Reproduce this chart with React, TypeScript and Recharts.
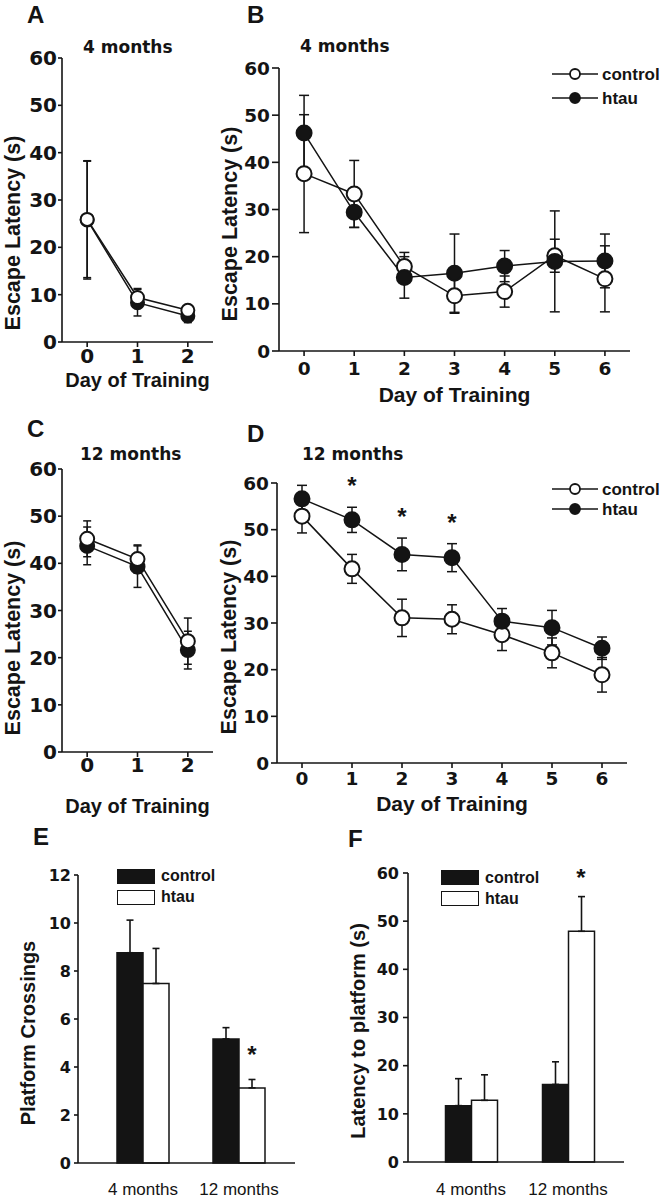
import React from "react";
import {
  Bar,
  BarChart,
  ErrorBar,
  Legend,
  Line,
  LineChart,
  ReferenceDot,
  XAxis,
  YAxis,
} from "recharts";

const SANS = '"Liberation Sans", Arial, Helvetica, sans-serif';
const WIDE = '"DejaVu Sans", Verdana, sans-serif';
const INK = "#141414";

const days3 = [0, 1, 2];
const days7 = [0, 1, 2, 3, 4, 5, 6];
const latencyTicks = [0, 10, 20, 30, 40, 50, 60];
const crossingTicks = [0, 2, 4, 6, 8, 10, 12];

// A - 4 months, 3 training days
const a4Control = [25.9, 9.4, 6.7];
const a4ControlSem = [12.3, 1.9, 0.6];
const a4Htau = [25.8, 8.3, 5.5];
const a4HtauSem = [12.5, 2.8, 1.4];

// B - 4 months, 7 training days
const b4Control = [37.6, 33.3, 17.9, 11.7, 12.6, 20.2, 15.3];
const b4ControlSem = [12.5, 7.1, 3.0, 3.7, 3.3, 3.5, 7.0];
const b4Htau = [46.2, 29.4, 15.6, 16.5, 18.0, 19.0, 19.1];
const b4HtauSem = [8.0, 3.2, 4.4, 8.3, 3.3, 10.7, 5.7];

// C - 12 months, 3 training days
const c12Control = [45.2, 40.9, 23.5];
const c12ControlSem = [3.8, 3.0, 4.9];
const c12Htau = [43.7, 39.3, 21.6];
const c12HtauSem = [4.0, 4.4, 4.0];

// D - 12 months, 7 training days
const d12Control = [52.9, 41.6, 31.1, 30.8, 27.5, 23.6, 18.9];
const d12ControlSem = [3.6, 3.1, 4.0, 3.1, 3.4, 3.2, 3.7];
const d12Htau = [56.6, 52.1, 44.7, 44.0, 30.4, 29.0, 24.6];
const d12HtauSem = [2.9, 2.7, 3.5, 3.0, 2.7, 3.7, 2.4];
const d12Significant = [false, true, true, true, false, false, false];

// E, F - probe trial
const ages = ["4 months", "12 months"];
const crossControl = [8.76, 5.17];
const crossControlSem = [1.36, 0.47];
const crossHtau = [7.48, 3.13];
const crossHtauSem = [1.46, 0.35];
const crossSignificant = [false, true];
const probeControl = [11.7, 16.1];
const probeControlSem = [5.6, 4.7];
const probeHtau = [12.8, 47.9];
const probeHtauSem = [5.3, 7.2];
const probeSignificant = [false, true];

type Key = "control" | "htau";
type Box = { x: number; y: number; w: number; h: number };
type Plot = { l: number; t: number; r: number; b: number };

const lineFill: Record<string, string> = { control: "#fff", htau: INK };
const barFill: Record<string, string> = { control: INK, htau: "#fff" };
const axisPen = { stroke: INK, strokeWidth: 1.6 };

function dayRows(days: number[], control: number[], controlSem: number[], htau: number[], htauSem: number[]) {
  return days.map((day, i) => ({
    day,
    control: control[i],
    controlSem: controlSem[i],
    htau: htau[i],
    htauSem: htauSem[i],
  }));
}

function ageRows(control: number[], controlSem: number[], htau: number[], htauSem: number[]) {
  return ages.map((age, i) => ({
    age,
    control: control[i],
    controlErr: [0, controlSem[i]],
    htau: htau[i],
    htauErr: [0, htauSem[i]],
  }));
}

type TitleSpec = { x: number; y: number; size: number };

function xTitleContent(text: string, box: Box, t: TitleSpec) {
  return () => (
    <text x={t.x - box.x} y={t.y - box.y} textAnchor="middle" fontFamily={SANS} fontWeight={700} fontSize={t.size} fill={INK}>
      {text}
    </text>
  );
}

function yTitleContent(text: string, box: Box, t: TitleSpec) {
  const x = t.x - box.x;
  const y = t.y - box.y;
  return () => (
    <text x={x} y={y} transform={`rotate(-90 ${x} ${y})`} textAnchor="middle" fontFamily={SANS} fontWeight={700} fontSize={t.size} fill={INK}>
      {text}
    </text>
  );
}

function lineKey(rowH: number, size: number) {
  return (props: any) => (
    <div>
      {(props.payload ?? []).map((entry: any) => (
        <div key={entry.value} style={{ display: "flex", alignItems: "center", height: rowH }}>
          <svg width={46} height={rowH} style={{ display: "block" }}>
            <line x1={0} x2={46} y1={rowH / 2} y2={rowH / 2} stroke={INK} strokeWidth={1.5} />
            <circle cx={23} cy={rowH / 2} r={5} fill={lineFill[entry.value]} stroke={INK} strokeWidth={1.8} />
          </svg>
          <span style={{ marginLeft: 4, fontFamily: SANS, fontWeight: 700, fontSize: size, color: INK, lineHeight: 1, whiteSpace: "nowrap" }}>
            {entry.value}
          </span>
        </div>
      ))}
    </div>
  );
}

function barKey(rowH: number, size: number) {
  return (props: any) => (
    <div>
      {(props.payload ?? []).map((entry: any) => (
        <div key={entry.value} style={{ display: "flex", alignItems: "center", height: rowH }}>
          <span
            style={{
              display: "block",
              width: 38,
              height: 15,
              boxSizing: "border-box",
              background: barFill[entry.value],
              border: `1.5px solid ${INK}`,
            }}
          />
          <span style={{ marginLeft: 6, fontFamily: SANS, fontWeight: 700, fontSize: size, color: INK, lineHeight: 1 }}>
            {entry.value}
          </span>
        </div>
      ))}
    </div>
  );
}

function star(dx: number, lift: number) {
  return (p: any) => (
    <text x={p.cx + dx} y={p.cy - lift} textAnchor="middle" fontFamily={SANS} fontWeight={700} fontSize={24} fill={INK}>
      *
    </text>
  );
}

interface LinePanelProps {
  box: Box;
  plot: Plot;
  data: ReturnType<typeof dayRows>;
  days: number[];
  order: Key[];
  dotR: number;
  cap: number;
  tickFont: number;
  xTick: [number, number];
  yTick: [number, number];
  xTitle: TitleSpec;
  yTitle: TitleSpec;
  legend?: { left: number; top: number; rowH: number };
  significant?: boolean[];
}

function LinePanel(p: LinePanelProps) {
  const { box, plot } = p;
  const maxDay = p.days[p.days.length - 1];
  const tickStyle = { fontSize: p.tickFont, fontWeight: 700, fontFamily: WIDE, fill: INK };
  return (
    <div style={{ position: "absolute", left: box.x, top: box.y }}>
      <LineChart
        width={box.w}
        height={box.h}
        data={p.data}
        margin={{ top: plot.t - box.y, right: box.x + box.w - plot.r, bottom: 0, left: 0 }}
      >
        <XAxis
          dataKey="day"
          type="number"
          domain={[-0.5, maxDay + 0.5]}
          ticks={p.days}
          interval={0}
          height={box.y + box.h - plot.b}
          tickSize={p.xTick[0]}
          tickMargin={p.xTick[1]}
          axisLine={axisPen}
          tickLine={axisPen}
          tick={tickStyle}
          label={{ content: xTitleContent("Day of Training", box, p.xTitle) }}
        />
        <YAxis
          type="number"
          domain={[0, 60]}
          ticks={latencyTicks}
          interval={0}
          width={plot.l - box.x}
          tickSize={p.yTick[0]}
          tickMargin={p.yTick[1]}
          axisLine={axisPen}
          tickLine={axisPen}
          tick={tickStyle}
          label={{ content: yTitleContent("Escape Latency (s)", box, p.yTitle) }}
        />
        {p.order.map((key) => (
          <Line
            key={key}
            dataKey={key}
            name={key}
            type="linear"
            stroke={INK}
            strokeWidth={1.5}
            isAnimationActive={false}
            activeDot={false}
            dot={{ r: p.dotR, fill: lineFill[key], stroke: INK, strokeWidth: 2 }}
          >
            <ErrorBar
              dataKey={`${key}Sem`}
              width={p.cap}
              stroke={INK}
              strokeWidth={1.5}
              direction="y"
              isAnimationActive={false}
            />
          </Line>
        ))}
        {(p.significant ?? []).map((sig, i) =>
          sig ? (
            <ReferenceDot
              key={`sig-${i}`}
              x={p.data[i].day}
              y={p.data[i].htau + p.data[i].htauSem}
              r={0}
              shape={star(0, 13)}
            />
          ) : null
        )}
        {p.legend && (
          <Legend
            layout="vertical"
            align="center"
            verticalAlign="middle"
            content={lineKey(p.legend.rowH, 17)}
            wrapperStyle={{ left: p.legend.left, top: p.legend.top, width: 112, margin: 0, padding: 0 }}
          />
        )}
      </LineChart>
    </div>
  );
}

interface BarPanelProps {
  box: Box;
  plot: Plot;
  data: ReturnType<typeof ageRows>;
  domainMax: number;
  ticks: number[];
  pad: [number, number];
  yTick: [number, number];
  yTitle: TitleSpec;
  yLabel: string;
  legend: { left: number; top: number; rowH: number };
  significant: boolean[];
  starLift: number;
  groupGap: number;
}

const BAR = 26;

function BarPanel(p: BarPanelProps) {
  const { box, plot } = p;
  return (
    <div style={{ position: "absolute", left: box.x, top: box.y }}>
      <BarChart
        width={box.w}
        height={box.h}
        data={p.data}
        barGap={0}
        barSize={BAR}
        margin={{ top: plot.t - box.y, right: box.x + box.w - plot.r, bottom: 0, left: 0 }}
      >
        <XAxis
          dataKey="age"
          type="category"
          padding={{ left: p.pad[0], right: p.pad[1] }}
          height={box.y + box.h - plot.b}
          tickSize={0}
          tickMargin={p.groupGap}
          interval={0}
          axisLine={axisPen}
          tickLine={false}
          tick={{ fontSize: 17, fontWeight: 400, fontFamily: SANS, fill: INK }}
        />
        <YAxis
          type="number"
          domain={[0, p.domainMax]}
          ticks={p.ticks}
          interval={0}
          width={plot.l - box.x}
          tickSize={p.yTick[0]}
          tickMargin={p.yTick[1]}
          axisLine={axisPen}
          tickLine={axisPen}
          tick={{ fontSize: 16, fontWeight: 700, fontFamily: WIDE, fill: INK }}
          label={{ content: yTitleContent(p.yLabel, box, p.yTitle) }}
        />
        <Bar dataKey="control" name="control" fill={INK} stroke={INK} strokeWidth={1.5} isAnimationActive={false}>
          <ErrorBar dataKey="controlErr" width={3.5} stroke={INK} strokeWidth={1.6} direction="y" isAnimationActive={false} />
        </Bar>
        <Bar dataKey="htau" name="htau" fill="#fff" stroke={INK} strokeWidth={1.5} isAnimationActive={false}>
          <ErrorBar dataKey="htauErr" width={3.5} stroke={INK} strokeWidth={1.6} direction="y" isAnimationActive={false} />
        </Bar>
        {p.significant.map((sig, i) =>
          sig ? (
            <ReferenceDot
              key={`sig-${i}`}
              x={p.data[i].age}
              y={p.data[i].htau + p.data[i].htauErr[1]}
              r={0}
              shape={star(BAR / 2, p.starLift)}
            />
          ) : null
        )}
        <Legend
          layout="vertical"
          align="center"
          verticalAlign="middle"
          content={barKey(p.legend.rowH, 16)}
          wrapperStyle={{ left: p.legend.left, top: p.legend.top, width: 120, margin: 0, padding: 0 }}
        />
      </BarChart>
    </div>
  );
}

const panelLetters = [
  { t: "A", x: 27, y: 23 },
  { t: "B", x: 247, y: 23 },
  { t: "C", x: 27, y: 437 },
  { t: "D", x: 247, y: 442 },
  { t: "E", x: 33, y: 845 },
  { t: "F", x: 348, y: 847 },
];

const panelTitles = [
  { t: "4 months", x: 83, y: 53 },
  { t: "4 months", x: 300, y: 52 },
  { t: "12 months", x: 80, y: 460 },
  { t: "12 months", x: 302, y: 460 },
];

export default function App() {
  const boxA = { x: 0, y: 0, w: 230, h: 405 };
  const boxB = { x: 212, y: 0, w: 450, h: 410 };
  const boxC = { x: 0, y: 405, w: 230, h: 415 };
  const boxD = { x: 212, y: 410, w: 450, h: 415 };
  const boxE = { x: 0, y: 818, w: 331, h: 381 };
  const boxF = { x: 331, y: 818, w: 331, h: 381 };

  return (
    <div style={{ position: "absolute", left: 0, top: 0, width: 662, height: 1199, background: "#fff", overflow: "hidden" }}>
      <LinePanel
        box={boxA}
        plot={{ l: 62, t: 58, r: 213, b: 342 }}
        data={dayRows(days3, a4Control, a4ControlSem, a4Htau, a4HtauSem)}
        days={days3}
        order={["htau", "control"]}
        dotR={6.5}
        cap={4}
        tickFont={20}
        xTick={[5, 2]}
        yTick={[4, 1]}
        xTitle={{ x: 137.5, y: 387, size: 20 }}
        yTitle={{ x: 20, y: 233, size: 21.5 }}
      />
      <LinePanel
        box={boxB}
        plot={{ l: 279, t: 68, r: 630, b: 351 }}
        data={dayRows(days7, b4Control, b4ControlSem, b4Htau, b4HtauSem)}
        days={days7}
        order={["control", "htau"]}
        dotR={7.5}
        cap={5}
        tickFont={18.5}
        xTick={[5, 6]}
        yTick={[7, 2]}
        xTitle={{ x: 454.5, y: 402, size: 21 }}
        yTitle={{ x: 237, y: 224, size: 21.5 }}
        legend={{ left: 340, top: 62, rowH: 24 }}
      />
      <LinePanel
        box={boxC}
        plot={{ l: 62, t: 469, r: 213, b: 752 }}
        data={dayRows(days3, c12Control, c12ControlSem, c12Htau, c12HtauSem)}
        days={days3}
        order={["htau", "control"]}
        dotR={7}
        cap={4}
        tickFont={20}
        xTick={[5, 1]}
        yTick={[4, 1]}
        xTitle={{ x: 137.5, y: 813, size: 20 }}
        yTitle={{ x: 20, y: 638, size: 21.5 }}
      />
      <LinePanel
        box={boxD}
        plot={{ l: 277, t: 483, r: 627, b: 763 }}
        data={dayRows(days7, d12Control, d12ControlSem, d12Htau, d12HtauSem)}
        days={days7}
        order={["control", "htau"]}
        dotR={7.5}
        cap={5}
        tickFont={18.5}
        xTick={[5, 4]}
        yTick={[6, 2]}
        xTitle={{ x: 452, y: 811, size: 21 }}
        yTitle={{ x: 236, y: 637, size: 21.5 }}
        legend={{ left: 340, top: 69, rowH: 20 }}
        significant={d12Significant}
      />
      <BarPanel
        box={boxE}
        plot={{ l: 78, t: 875, r: 295, b: 1163 }}
        data={ageRows(crossControl, crossControlSem, crossHtau, crossHtauSem)}
        domainMax={12}
        ticks={crossingTicks}
        pad={[17, 8]}
        yTick={[4, 3]}
        yTitle={{ x: 35, y: 1033, size: 20 }}
        yLabel="Platform Crossings"
        legend={{ left: 117, top: 47.5, rowH: 21 }}
        significant={crossSignificant}
        starLift={16}
        groupGap={20}
      />
      <BarPanel
        box={boxF}
        plot={{ l: 408, t: 873, r: 624, b: 1162 }}
        data={ageRows(probeControl, probeControlSem, probeHtau, probeHtauSem)}
        domainMax={60}
        ticks={latencyTicks}
        pad={[14.5, 7.5]}
        yTick={[5, 4]}
        yTitle={{ x: 365, y: 1031, size: 20 }}
        yLabel="Latency to platform (s)"
        legend={{ left: 110, top: 49, rowH: 21 }}
        significant={probeSignificant}
        starLift={11}
        groupGap={21}
      />
      <svg width={662} height={1199} style={{ position: "absolute", left: 0, top: 0, pointerEvents: "none" }}>
        {panelLetters.map((l) => (
          <text key={l.t} x={l.x} y={l.y} fontFamily={SANS} fontWeight={700} fontSize={24} fill={INK}>
            {l.t}
          </text>
        ))}
        {panelTitles.map((t, i) => (
          <text key={i} x={t.x} y={t.y} fontFamily={WIDE} fontWeight={700} fontSize={17} fill={INK}>
            {t.t}
          </text>
        ))}
      </svg>
    </div>
  );
}
